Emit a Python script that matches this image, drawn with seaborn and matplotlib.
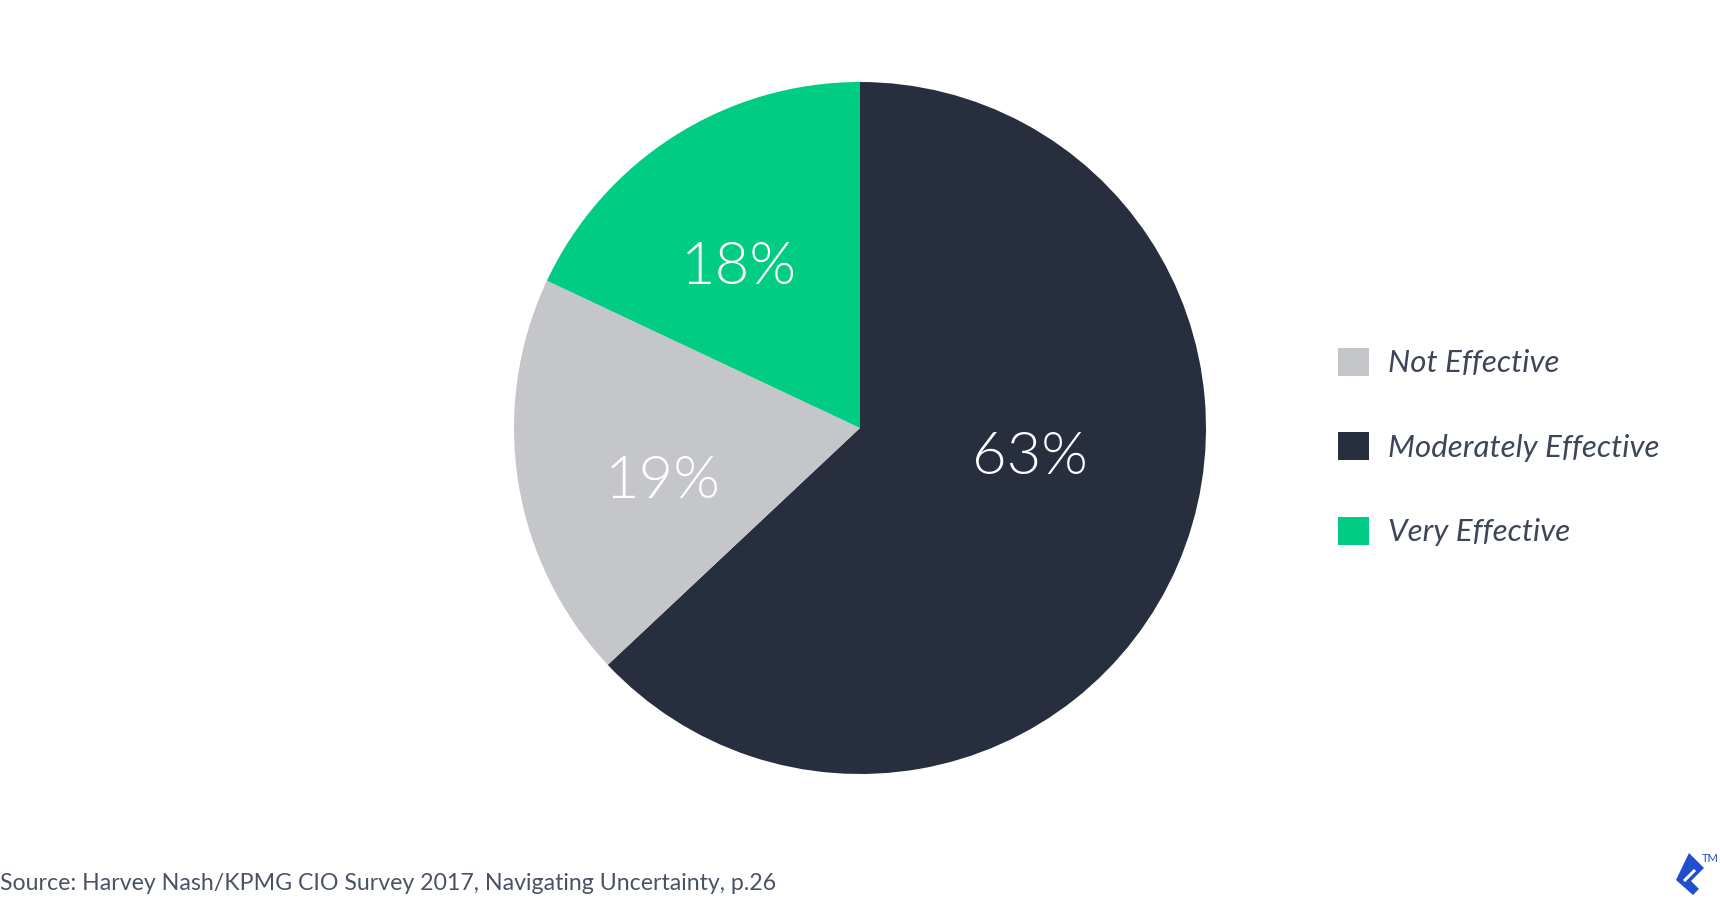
import matplotlib.pyplot as plt
import seaborn as sns
from matplotlib.patches import Patch, Polygon
from matplotlib.lines import Line2D

sns.set_theme(style="white")
plt.rcParams['font.family'] = ['Lato', 'DejaVu Sans']

# data (pie drawn clockwise from 12 o'clock)
categories = ['Moderately Effective', 'Not Effective', 'Very Effective']
shares = [63, 19, 18]
colors = ['#272e3e', '#c5c6c9', '#00cc83']
legend_order = ['Not Effective', 'Moderately Effective', 'Very Effective']
source = 'Source: Harvey Nash/KPMG CIO Survey 2017, Navigating Uncertainty, p.26'

W, H = 1720, 900
fig = plt.figure(figsize=(W / 100, H / 100), dpi=100)

# pie: center (860, 428) px, radius 346 px
cx, cy, r = 860, 428, 346
ax = fig.add_axes([(cx - r) / W, (H - cy - r) / H, 2 * r / W, 2 * r / H])
wedges, _ = ax.pie(shares, colors=colors, startangle=90, counterclock=False,
                   radius=1.0, wedgeprops=dict(linewidth=0))
ax.set_xlim(-1, 1)
ax.set_ylim(-1, 1)
ax.set_aspect('equal')
ax.axis('off')

# percentage labels (offsets, in radius units)
label_xy = [(0.49, -0.085), (-0.57, -0.155), (-0.35, 0.465)]
for (x, y), v in zip(label_xy, shares):
    ax.text(x, y, f'{v}%', color='white', fontsize=43, fontweight=300,
            ha='center', va='center')

# legend
cmap = dict(zip(categories, colors))
handles = [Patch(facecolor=cmap[c], edgecolor='none', label=c) for c in legend_order]
leg = fig.legend(handles=handles, loc='center left',
                 bbox_to_anchor=(1310 / W, 1 - 447 / H), frameon=False,
                 fontsize=22.5, handlelength=1.0, handleheight=1.0,
                 handletextpad=0.6, labelspacing=1.75)
for t in leg.get_texts():
    t.set_color('#3d4659')
    t.set_fontstyle('italic')

# source note
fig.text(0.0, 1 - 884 / H, source, fontsize=16.7, color='#4a5366',
         ha='left', va='center')

# small logo mark bottom right (pixel coords, origin top-left)
logo_pts = [(1689, 853), (1704, 868), (1691, 881), (1699, 889),
            (1693, 895), (1676, 880)]
logo = Polygon([(x, H - y) for x, y in logo_pts], closed=True, transform=None,
               facecolor='#204ecf', edgecolor='none')
fig.patches.append(logo)
fig.lines.append(Line2D([1684, 1695], [H - 881, H - 870], transform=None,
                        color='white', lw=2.2, solid_capstyle='butt'))
fig.text(1719 / W, 1 - 859 / H, 'TM', fontsize=8, color='#204ecf',
         ha='right', va='center')

fig.savefig('out.png', dpi=100)
